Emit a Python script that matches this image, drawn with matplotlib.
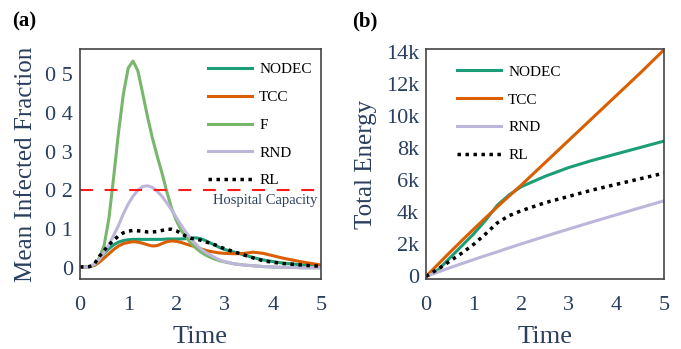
import numpy as np
import matplotlib
matplotlib.use("Agg")
import matplotlib.pyplot as plt
from matplotlib.transforms import blended_transform_factory

# ---------------- data: panel (a) ----------------
t_a = [0.0, 0.1, 0.2, 0.3, 0.4, 0.5, 0.6, 0.7, 0.8, 0.9, 1.0, 1.1, 1.2, 1.3, 1.4, 1.5,
       1.6, 1.7, 1.8, 1.9, 2.0, 2.1, 2.2, 2.3, 2.4, 2.5, 2.6, 2.7, 2.8, 2.9, 3.0,
       3.2, 3.4, 3.6, 3.8, 4.0, 4.2, 4.4, 4.6, 4.8, 5.0]
nodec_a = [0.003, 0.003, 0.004, 0.008, 0.022, 0.038, 0.050, 0.060, 0.067, 0.071, 0.073, 0.074,
           0.074, 0.074, 0.074, 0.074, 0.074, 0.074, 0.075, 0.075, 0.075, 0.075, 0.076, 0.077,
           0.078, 0.076, 0.071, 0.065, 0.059, 0.053, 0.048, 0.041, 0.034, 0.027, 0.021, 0.017,
           0.013, 0.011, 0.008, 0.006, 0.004]
tcc_a = [0.003, 0.003, 0.004, 0.007, 0.015, 0.026, 0.037, 0.048, 0.057, 0.063, 0.066, 0.068,
         0.067, 0.064, 0.060, 0.057, 0.058, 0.063, 0.068, 0.070, 0.069, 0.066, 0.062, 0.058,
         0.055, 0.050, 0.046, 0.043, 0.041, 0.039, 0.038, 0.037, 0.038, 0.041, 0.038, 0.032,
         0.026, 0.021, 0.016, 0.012, 0.008]
f_a = [0.003, 0.003, 0.004, 0.009, 0.026, 0.058, 0.128, 0.236, 0.350, 0.448, 0.515, 0.533,
       0.508, 0.450, 0.390, 0.336, 0.289, 0.245, 0.197, 0.154, 0.122, 0.097, 0.080, 0.064,
       0.052, 0.042, 0.034, 0.028, 0.023, 0.019, 0.016, 0.011, 0.008, 0.006, 0.004, 0.003,
       0.002, 0.002, 0.001, 0.001, 0.001]
rnd_a = [0.003, 0.003, 0.004, 0.010, 0.022, 0.040, 0.060, 0.085, 0.110, 0.140, 0.165, 0.185,
         0.200, 0.210, 0.212, 0.208, 0.198, 0.185, 0.168, 0.150, 0.130, 0.110, 0.092, 0.076,
         0.062, 0.050, 0.041, 0.034, 0.027, 0.021, 0.017, 0.011, 0.008, 0.006, 0.004, 0.003,
         0.002, 0.002, 0.001, 0.001, 0.001]
rl_a = [0.003, 0.003, 0.004, 0.011, 0.030, 0.045, 0.060, 0.072, 0.083, 0.091, 0.095, 0.097,
        0.096, 0.095, 0.093, 0.093, 0.094, 0.097, 0.100, 0.100, 0.096, 0.089, 0.082, 0.077,
        0.075, 0.072, 0.068, 0.064, 0.060, 0.055, 0.050, 0.042, 0.034, 0.026, 0.019, 0.015,
        0.012, 0.010, 0.008, 0.006, 0.005]
capacity = 0.2
yticks_a = [0, 0.1, 0.2, 0.3, 0.4, 0.5]
yticklabels_a = ["0", "0 1", "0 2", "0 3", "0 4", "0 5"]

# ---------------- data: panel (b) ----------------
t_b = [0, 0.25, 0.5, 0.75, 1.0, 1.25, 1.5, 1.75, 2.0, 2.5, 3.0, 3.5, 4.0, 4.5, 5.0]
nodec_b = [0, 400, 1150, 1900, 2650, 3500, 4450, 5100, 5600, 6250, 6800, 7250, 7650, 8050, 8450]
tcc_b = [0, 750, 1500, 2230, 2950, 3650, 4350, 5030, 5700, 7100, 8500, 9900, 11300, 12700, 14150]
rnd_b = [0, 270, 540, 800, 1050, 1300, 1540, 1790, 2030, 2500, 2960, 3410, 3850, 4290, 4720]
rl_b = [0, 450, 950, 1450, 2000, 2650, 3350, 3800, 4100, 4600, 5000, 5400, 5750, 6100, 6450]
yticks_b = [0, 2000, 4000, 6000, 8000, 10000, 12000, 14000]
yticklabels_b = ["0", "2k", "4k", "6k", "8k", "10k", "12k", "14k"]
xticks = [0, 1, 2, 3, 4, 5]

# ---------------- style ----------------
C_NODEC = "#1b9e77"
C_TCC = "#d95f02"
C_F = "#78b66c"
C_RND = "#bdb5da"
C_RL = "black"
TXT = "#2a3f5f"
plt.rcParams['font.family'] = ['Liberation Serif', 'DejaVu Serif']

W, H = 681, 349
fig = plt.figure(figsize=(W / 100, H / 100), dpi=100)

def frac_box(x0, y0, x1, y1):
    return [x0 / W, 1 - y1 / H, (x1 - x0) / W, (y1 - y0) / H]

axA = fig.add_axes(frac_box(80, 49, 321, 279))
axB = fig.add_axes(frac_box(426, 49, 664, 279))

lw = 2.2
axA.plot(t_a, nodec_a, color=C_NODEC, lw=lw, label="NODEC")
axA.plot(t_a, tcc_a, color=C_TCC, lw=lw, label="TCC")
axA.plot(t_a, f_a, color=C_F, lw=lw, label="F")
axA.plot(t_a, rnd_a, color=C_RND, lw=lw, label="RND")
axA.plot(t_a, rl_a, color=C_RL, lw=2.5, ls=(0, (1, 1.3)), label="RL")
axA.axhline(capacity, color="#ff1a1a", lw=1.5, dashes=(6.2, 5.6))
trA = blended_transform_factory(axA.transAxes, axA.transData)
axA.text(0.985, capacity - 0.025, "Hospital Capacity", transform=trA, ha="right", va="center",
         fontsize=10.5, color=TXT)

axB.plot(t_b, nodec_b, color=C_NODEC, lw=lw, label="NODEC")
axB.plot(t_b, tcc_b, color=C_TCC, lw=lw, label="TCC")
axB.plot(t_b, rnd_b, color=C_RND, lw=lw, label="RND")
axB.plot(t_b, rl_b, color=C_RL, lw=2.5, ls=(0, (1, 1.3)), label="RL")

axA.set_xlim(0, 5)
axA.set_ylim(-0.028, 0.564)
axB.set_xlim(0, 5)
axB.set_ylim(-160, 14200)

axA.set_yticks(yticks_a)
axA.set_yticklabels(yticklabels_a)
axB.set_yticks(yticks_b)
axB.set_yticklabels(yticklabels_b)

for ax in (axA, axB):
    ax.set_xticks(xticks)
    ax.set_xticklabels([str(v) for v in xticks])
    ax.tick_params(axis="both", length=0, labelsize=16, labelcolor=TXT)
    ax.tick_params(axis="x", pad=12)
    ax.tick_params(axis="y", pad=5)
    for s in ax.spines.values():
        s.set_color("#444444")
        s.set_linewidth(1.2)
    ax.set_xlabel("Time", fontsize=19, color=TXT, labelpad=8)

axA.set_ylabel("Mean Infected Fraction", fontsize=18, color=TXT, labelpad=6)
axB.set_ylabel("Total Energy", fontsize=18, color=TXT, labelpad=6)

legkw = dict(frameon=False, fontsize=11, handlelength=2.9, handletextpad=0.45,
             labelspacing=0.92, borderpad=0, borderaxespad=0, loc="upper left")
axA.legend(bbox_to_anchor=(0.531, 0.94), **legkw)
axB.legend(bbox_to_anchor=(0.130, 0.93), **legkw)

fig.text(12 / W, 1 - 21 / H, "(a)", fontsize=15, fontweight="bold", va="center", ha="left")
fig.text(352 / W, 1 - 21 / H, "(b)", fontsize=15, fontweight="bold", va="center", ha="left")

fig.savefig("out.png", dpi=100)
